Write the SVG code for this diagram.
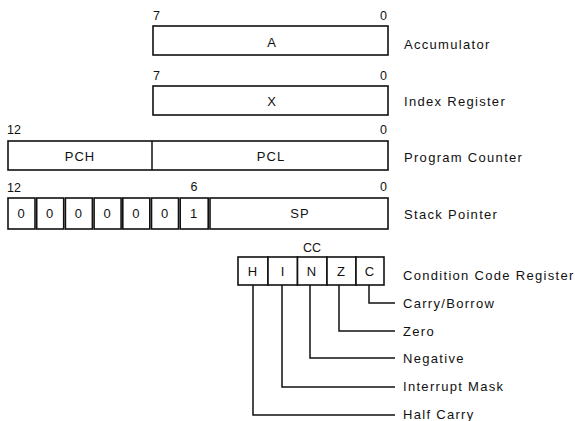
<svg xmlns="http://www.w3.org/2000/svg" width="575" height="421" viewBox="0 0 575 421">
<style>
.box{fill:#fff;stroke:#111;stroke-width:1.6}
.ln{fill:none;stroke:#111;stroke-width:1.5}
text{font-family:"Liberation Sans",Arial,sans-serif;fill:#111}
.lbl{font-size:13px;letter-spacing:1.3px}
.in{font-size:13px;letter-spacing:1px;text-anchor:middle}
.bit{font-size:12.5px}
.end{text-anchor:end}
.mid{text-anchor:middle}
</style>
<rect width="575" height="421" fill="#fff"/>
<g id="acc">
<rect class="box" x="153" y="26" width="235" height="29"/>
<text class="bit" x="153" y="20">7</text>
<text class="bit end" x="387" y="20">0</text>
<text class="in" x="272" y="47">A</text>
<text class="lbl" x="404" y="49">Accumulator</text>
</g>
<g id="idx">
<rect class="box" x="153" y="86" width="235" height="29"/>
<text class="bit" x="153" y="80">7</text>
<text class="bit end" x="387" y="80">0</text>
<text class="in" x="272" y="106">X</text>
<text class="lbl" x="404" y="106">Index Register</text>
</g>
<g id="pc">
<rect class="box" x="8" y="141" width="380" height="29"/>
<line class="ln" x1="152" y1="141" x2="152" y2="170"/>
<text class="bit" x="7" y="134">12</text>
<text class="bit end" x="387" y="134">0</text>
<text class="in" x="80" y="161">PCH</text>
<text class="in" x="271" y="161">PCL</text>
<text class="lbl" x="404" y="162">Program Counter</text>
</g>
<g id="sp">
<text class="bit" x="7" y="192">12</text>
<text class="bit mid" x="194" y="191">6</text>
<text class="bit end" x="387" y="191">0</text>
<rect class="box" x="8" y="198" width="27" height="31"/>
<rect class="box" x="36.7" y="198" width="27" height="31"/>
<rect class="box" x="65.4" y="198" width="27" height="31"/>
<rect class="box" x="94.1" y="198" width="27" height="31"/>
<rect class="box" x="122.8" y="198" width="27" height="31"/>
<rect class="box" x="151.5" y="198" width="27" height="31"/>
<rect class="box" x="180.2" y="198" width="28" height="31"/>
<rect class="box" x="210" y="198" width="178" height="31"/>
<text class="in" x="21.5" y="218">0</text>
<text class="in" x="50.2" y="218">0</text>
<text class="in" x="78.9" y="218">0</text>
<text class="in" x="107.6" y="218">0</text>
<text class="in" x="136.3" y="218">0</text>
<text class="in" x="165" y="218">0</text>
<text class="in" x="194.2" y="218">1</text>
<text class="in" x="300" y="218">SP</text>
<text class="lbl" x="404" y="219">Stack Pointer</text>
</g>
<g id="cc">
<text class="bit mid" x="312" y="252">CC</text>
<rect class="box" x="238" y="257" width="30" height="28"/>
<rect class="box" x="268" y="257" width="29.5" height="28"/>
<rect class="box" x="297.5" y="257" width="29.5" height="28"/>
<rect class="box" x="327" y="257" width="29" height="28"/>
<rect class="box" x="356" y="257" width="28" height="28"/>
<text class="in" x="253" y="276">H</text>
<text class="in" x="283" y="276">I</text>
<text class="in" x="312" y="276">N</text>
<text class="in" x="341.5" y="276">Z</text>
<text class="in" x="370" y="276">C</text>
<text class="lbl" x="403" y="280">Condition Code Register</text>
</g>
<g id="connectors">
<polyline class="ln" points="369,285 369,303 395,303"/>
<polyline class="ln" points="339,285 339,331 395,331"/>
<polyline class="ln" points="310,285 310,358 395,358"/>
<polyline class="ln" points="282,285 282,387 395,387"/>
<polyline class="ln" points="253,285 253,415 395,415"/>
</g>
<g id="flags">
<text class="lbl" x="403" y="308">Carry/Borrow</text>
<text class="lbl" x="403" y="336">Zero</text>
<text class="lbl" x="403" y="363">Negative</text>
<text class="lbl" x="403" y="391">Interrupt Mask</text>
<text class="lbl" x="403" y="419">Half Carry</text>
</g>
</svg>
